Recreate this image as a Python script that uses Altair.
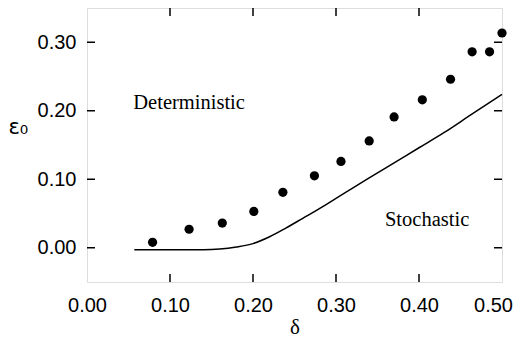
import altair as alt
import pandas as pd

# Simulation points (filled circles)
pt_delta = [0.079, 0.123, 0.163, 0.201, 0.236, 0.274, 0.306, 0.340, 0.370, 0.404, 0.438, 0.464, 0.485, 0.500]
pt_eps = [0.008, 0.027, 0.036, 0.053, 0.081, 0.105, 0.126, 0.156, 0.191, 0.216, 0.246, 0.286, 0.286, 0.3135]

# Theory curve
ln_delta = [0.057, 0.10, 0.14, 0.16, 0.18, 0.20, 0.22, 0.24, 0.26, 0.28, 0.30, 0.32, 0.34, 0.37, 0.40, 0.43, 0.46, 0.50]
ln_eps = [-0.003, -0.003, -0.003, -0.002, 0.001, 0.006, 0.016, 0.029, 0.043, 0.057, 0.072, 0.087, 0.102, 0.124, 0.146, 0.168, 0.192, 0.224]

# Axis ticks
x_ticks = [0.0, 0.1, 0.2, 0.3, 0.4, 0.5]
y_ticks = [0.0, 0.1, 0.2, 0.3]
x_inner_ticks = [0.1, 0.2, 0.3, 0.4]

# Region labels
region_labels = ["Deterministic", "Stochastic"]
region_delta = [0.0558, 0.359]
region_eps = [0.2026, 0.0318]

W, H = 415, 274
TL = 8

pts = pd.DataFrame({"delta": pt_delta, "eps": pt_eps})
line = pd.DataFrame({"delta": ln_delta, "eps": ln_eps})
xt = pd.DataFrame({"delta": x_inner_ticks})
yt = pd.DataFrame({"eps": y_ticks})
lab = pd.DataFrame({"delta": region_delta, "eps": region_eps, "label": region_labels})

xscale = alt.Scale(domain=[0, 0.5], nice=False, zero=False)
yscale = alt.Scale(domain=[-0.05, 0.35], nice=False, zero=False)

xaxis = alt.Axis(values=x_ticks, format=".2f", ticks=False, tickSize=0, domain=False, grid=False,
                 labelFont="Liberation Sans", labelFontSize=20, labelColor="black",
                 labelPadding=13, labelFlush=False, labelOverlap=False,
                 labelOffset={"condition": {"test": "datum.value >= 0.5", "value": -9}, "value": 0},
                 title="δ", titleFont="Liberation Serif", titleFontSize=21, titleFontWeight="normal",
                 titleColor="black", titleY=51, titleBaseline="alphabetic")
yaxis = alt.Axis(values=y_ticks, format=".2f", ticks=False, tickSize=0, domain=False, grid=False,
                 labelFont="Liberation Sans", labelFontSize=20, labelColor="black",
                 labelPadding=11, labelFlush=False, labelOverlap=False,
                 title="ε₀", titleFont="DejaVu Sans", titleFontSize=21, titleFontWeight="normal",
                 titleColor="black", titleAngle=0, titleX=-79, titleY=125,
                 titleAlign="left", titleBaseline="alphabetic")

points = alt.Chart(pts).mark_circle(color="black", opacity=1, size=85).encode(
    x=alt.X("delta:Q", scale=xscale, axis=xaxis),
    y=alt.Y("eps:Q", scale=yscale, axis=yaxis),
)

curve = alt.Chart(line).mark_line(color="black", strokeWidth=1.5, interpolate="monotone").encode(
    x=alt.X("delta:Q", scale=xscale),
    y=alt.Y("eps:Q", scale=yscale),
)

texts = alt.Chart(lab).mark_text(font="Liberation Serif", fontSize=20.5, align="left",
                                 baseline="alphabetic", color="black").encode(
    x=alt.X("delta:Q", scale=xscale),
    y=alt.Y("eps:Q", scale=yscale),
    text="label:N",
)

bottom_ticks = alt.Chart(xt).mark_rule(color="black", strokeWidth=1.5).encode(
    x=alt.X("delta:Q", scale=xscale), y=alt.value(H), y2=alt.value(H - TL))
top_ticks = alt.Chart(xt).mark_rule(color="black", strokeWidth=1.5).encode(
    x=alt.X("delta:Q", scale=xscale), y=alt.value(0), y2=alt.value(TL))
left_ticks = alt.Chart(yt).mark_tick(color="black", orient="horizontal", size=TL, thickness=1.5, opacity=1).encode(
    y=alt.Y("eps:Q", scale=yscale), x=alt.value(TL / 2))
right_ticks = alt.Chart(yt).mark_tick(color="black", orient="horizontal", size=TL, thickness=1.5, opacity=1).encode(
    y=alt.Y("eps:Q", scale=yscale), x=alt.value(W - TL / 2))

chart = alt.layer(points, curve, texts, bottom_ticks, top_ticks, left_ticks, right_ticks).properties(
    width=W, height=H,
    autosize=alt.AutoSizeParams(type="none"),
    padding={"left": 79, "top": 0, "right": 14, "bottom": 55},
).configure_view(stroke="black", strokeWidth=1.5).configure(background="white")

chart.save("out.html", embed_options={"renderer": "svg", "actions": False})
